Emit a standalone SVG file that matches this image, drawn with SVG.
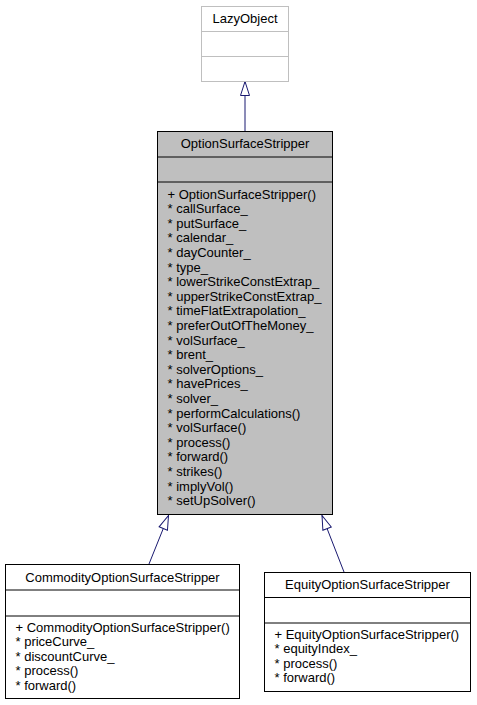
<svg xmlns="http://www.w3.org/2000/svg" width="477" height="705" viewBox="0 0 477 705">
<style>
text { font-family: "Liberation Sans", Arial, sans-serif; font-size: 13px; fill: #000000; }
.c { text-anchor: middle; }
.box { fill: #ffffff; stroke: #000000; stroke-width: 1; }
.cur { fill: #bfbfbf; stroke: #000000; stroke-width: 1; }
.ext { fill: #ffffff; stroke: #bfbfbf; stroke-width: 1; }
.sep { stroke: #000000; stroke-width: 1; fill: none; }
.sepg { stroke: #bfbfbf; stroke-width: 1; fill: none; }
.edge { stroke: #191970; stroke-width: 1; fill: none; marker-end: url(#inh); }
</style>
<defs>
<marker id="inh" markerUnits="userSpaceOnUse" markerWidth="18" markerHeight="14" viewBox="0 0 18 14" refX="15.5" refY="7" orient="auto">
<path d="M1.5,2.5 L15.5,7 L1.5,11.5 Z" fill="#ffffff" stroke="#191970" stroke-width="1"/>
</marker>
</defs>
<rect width="477" height="705" fill="#ffffff"/>

<g id="connectors">
<line class="edge" x1="245" y1="131" x2="245" y2="81.5"/>
<line class="edge" x1="149" y1="564" x2="168.5" y2="515.5"/>
<line class="edge" x1="344" y1="572" x2="322" y2="515.5"/>
</g>

<g id="LazyObject">
<rect class="ext" x="201.5" y="6.5" width="87" height="75"/>
<line class="sepg" x1="201.5" y1="31.5" x2="288.5" y2="31.5"/>
<line class="sepg" x1="201.5" y1="56.5" x2="288.5" y2="56.5"/>
<text class="c" x="245" y="23">LazyObject</text>
</g>

<g id="OptionSurfaceStripper">
<rect class="cur" x="157.5" y="131.5" width="175" height="383"/>
<line class="sep" x1="157.5" y1="157" x2="332.5" y2="157"/>
<line class="sep" x1="157.5" y1="182" x2="332.5" y2="182"/>
<text class="c" x="245" y="148">OptionSurfaceStripper</text>
<text x="167.5" y="198.5">+ OptionSurfaceStripper()</text>
<text x="167.5" y="213.1">* callSurface_</text>
<text x="167.5" y="227.7">* putSurface_</text>
<text x="167.5" y="242.3">* calendar_</text>
<text x="167.5" y="256.9">* dayCounter_</text>
<text x="167.5" y="271.5">* type_</text>
<text x="167.5" y="286.1">* lowerStrikeConstExtrap_</text>
<text x="167.5" y="300.7">* upperStrikeConstExtrap_</text>
<text x="167.5" y="315.3">* timeFlatExtrapolation_</text>
<text x="167.5" y="329.9">* preferOutOfTheMoney_</text>
<text x="167.5" y="344.5">* volSurface_</text>
<text x="167.5" y="359.1">* brent_</text>
<text x="167.5" y="373.7">* solverOptions_</text>
<text x="167.5" y="388.3">* havePrices_</text>
<text x="167.5" y="402.9">* solver_</text>
<text x="167.5" y="417.5">* performCalculations()</text>
<text x="167.5" y="432.1">* volSurface()</text>
<text x="167.5" y="446.7">* process()</text>
<text x="167.5" y="461.3">* forward()</text>
<text x="167.5" y="475.9">* strikes()</text>
<text x="167.5" y="490.5">* implyVol()</text>
<text x="167.5" y="505.1">* setUpSolver()</text>
</g>

<g id="CommodityOptionSurfaceStripper">
<rect class="box" x="5.5" y="564.5" width="234" height="134"/>
<line class="sep" x1="5.5" y1="590" x2="239.5" y2="590"/>
<line class="sep" x1="5.5" y1="616" x2="239.5" y2="616"/>
<text class="c" x="122.5" y="581.5">CommodityOptionSurfaceStripper</text>
<text x="15.5" y="631.5">+ CommodityOptionSurfaceStripper()</text>
<text x="15.5" y="646.1">* priceCurve_</text>
<text x="15.5" y="660.7">* discountCurve_</text>
<text x="15.5" y="675.3">* process()</text>
<text x="15.5" y="689.9">* forward()</text>
</g>

<g id="EquityOptionSurfaceStripper">
<rect class="box" x="264.5" y="572.5" width="206" height="119"/>
<line class="sep" x1="264.5" y1="597.5" x2="470.5" y2="597.5"/>
<line class="sep" x1="264.5" y1="623" x2="470.5" y2="623"/>
<text class="c" x="367.5" y="589">EquityOptionSurfaceStripper</text>
<text x="274.5" y="638.5">+ EquityOptionSurfaceStripper()</text>
<text x="274.5" y="653.1">* equityIndex_</text>
<text x="274.5" y="667.7">* process()</text>
<text x="274.5" y="682.3">* forward()</text>
</g>
</svg>
